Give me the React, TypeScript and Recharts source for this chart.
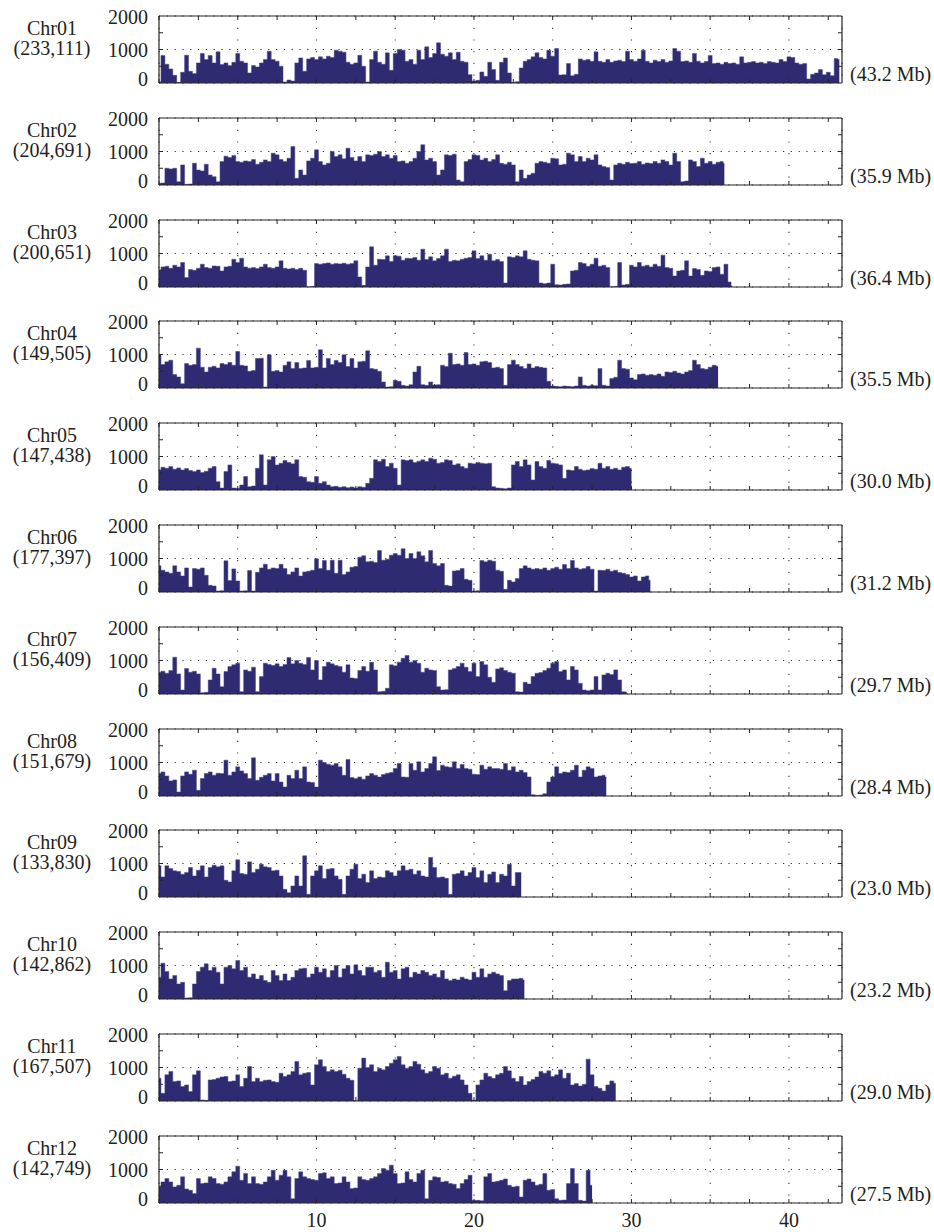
import { AreaChart, Area, XAxis, YAxis, CartesianGrid } from 'recharts';

const chrNames = ['Chr01', 'Chr02', 'Chr03', 'Chr04', 'Chr05', 'Chr06', 'Chr07', 'Chr08', 'Chr09', 'Chr10', 'Chr11', 'Chr12'];
const markerCounts = ['(233,111)', '(204,691)', '(200,651)', '(149,505)', '(147,438)', '(177,397)', '(156,409)', '(151,679)', '(133,830)', '(142,862)', '(167,507)', '(142,749)'];
const chrLengths = [43.2, 35.9, 36.4, 35.5, 30.0, 31.2, 29.7, 28.4, 23.0, 23.2, 29.0, 27.5];
const lengthLabels = ['(43.2 Mb)', '(35.9 Mb)', '(36.4 Mb)', '(35.5 Mb)', '(30.0 Mb)', '(31.2 Mb)', '(29.7 Mb)', '(28.4 Mb)', '(23.0 Mb)', '(23.2 Mb)', '(29.0 Mb)', '(27.5 Mb)'];
const STEP = 0.25;

const chr01 = [
  40, 820, 560, 420, 230, 20, 320, 830, 350, 280, 600, 880, 700, 820, 600, 930,
  550, 600, 520, 620, 880, 650, 600, 300, 520, 480, 600, 700, 950, 700, 650, 500,
  30, 90, 60, 600, 750, 350, 720, 760, 700, 780, 720, 800, 760, 980, 950, 920,
  620, 560, 600, 830, 500, 30, 700, 950, 620, 560, 900, 380, 880, 1000, 980, 650,
  700, 560, 980, 700, 1080, 760, 880, 1200, 860, 800, 900, 700, 920, 650, 620, 250,
  60, 80, 330, 200, 620, 400, 80, 620, 750, 300, 20, 40, 450, 650, 700, 780,
  900, 760, 720, 980, 800, 1030, 240, 250, 580, 220, 260, 720, 680, 700, 650, 930,
  650, 620, 700, 620, 660, 680, 640, 950, 700, 650, 720, 980, 650, 600, 680, 640,
  700, 620, 660, 1030, 950, 640, 660, 620, 880, 650, 600, 640, 820, 580, 600, 560,
  620, 580, 600, 560, 780, 600, 620, 640, 600, 620, 580, 640, 620, 600, 700, 640,
  780, 760, 600, 560, 580, 120, 260, 300, 400, 250, 320, 220, 730, 700,
];
const chr02 = [
  50, 60, 500, 480, 500, 100, 600, 20, 30, 650, 450, 420, 620, 300, 250, 100,
  700, 860, 820, 880, 700, 680, 720, 700, 760, 620, 680, 750, 700, 950, 900, 760,
  700, 800, 1150, 200, 450, 300, 720, 800, 1050, 700, 600, 650, 1000, 850, 900, 780,
  1100, 820, 720, 850, 700, 900, 880, 920, 1000, 850, 900, 800, 880, 700, 720, 650,
  700, 800, 1000, 1200, 750, 800, 700, 300, 450, 900, 880, 920, 150, 100, 700, 760,
  900, 880, 750, 800, 700, 760, 900, 650, 620, 680, 600, 100, 450, 200, 300, 350,
  650, 700, 680, 650, 800, 780, 600, 620, 950, 900, 700, 850, 700, 800, 750, 900,
  600, 550, 520, 150, 600, 650, 620, 680, 640, 650, 700, 620, 660, 640, 700, 650,
  750, 700, 600, 950, 700, 100, 120, 750, 700, 550, 800, 650, 700, 620, 680, 700,
  650,
];
const chr03 = [
  500, 600, 620, 560, 650, 600, 730, 280, 520, 500, 560, 680, 580, 560, 630, 620,
  480, 600, 620, 830, 730, 860, 600, 560, 580, 550, 600, 680, 580, 560, 600, 780,
  560, 540, 560, 520, 560, 500, 0, 20, 700, 680, 700, 720, 680, 700, 690, 710,
  680, 700, 780, 300, 50, 600, 1200, 650, 830, 820, 930, 760, 930, 920, 800, 860,
  850, 880, 800, 1130, 820, 900, 780, 850, 930, 1130, 760, 800, 780, 830, 860, 880,
  1080, 850, 930, 800, 980, 780, 820, 760, 120, 900, 880, 930, 900, 1080, 830, 800,
  780, 120, 100, 120, 680, 70, 60, 80, 90, 480, 500, 730, 700, 620, 680, 860,
  620, 650, 580, 0, 20, 730, 60, 80, 650, 600, 730, 620, 650, 600, 680, 620,
  950, 580, 560, 330, 480, 500, 780, 330, 550, 520, 350, 480, 460, 580, 600, 380,
  680, 150, 30,
];
const chr04 = [
  1000, 700, 780, 830, 400, 330, 130, 730, 680, 700, 1190, 620, 480, 620, 650, 600,
  730, 700, 760, 680, 1090, 680, 660, 500, 520, 880, 890, 30, 990, 500, 520, 480,
  680, 780, 580, 760, 580, 600, 820, 600, 620, 1140, 600, 880, 700, 820, 760, 990,
  640, 880, 600, 780, 800, 1110, 580, 560, 500, 180, 30, 40, 230, 200, 80, 60,
  100, 480, 650, 100, 80, 180, 90, 100, 680, 640, 1040, 700, 720, 680, 1060, 700,
  720, 680, 780, 800, 760, 600, 620, 580, 80, 700, 830, 700, 640, 580, 720, 600,
  640, 620, 600, 200, 60, 50, 40, 60, 50, 40, 60, 330, 80, 60, 80, 70,
  580, 80, 60, 280, 320, 830, 580, 560, 300, 250, 400, 420, 380, 400, 380, 420,
  350, 480, 460, 500, 450, 420, 480, 520, 830, 700, 580, 560, 620, 680, 650,
];
const chr05 = [
  600, 680, 650, 700, 620, 660, 600, 640, 580, 550, 600, 520, 560, 650, 700, 250,
  60, 550, 750, 60, 50, 150, 400, 100, 120, 650, 1050, 150, 900, 1000, 750, 800,
  880, 820, 780, 900, 400, 380, 250, 230, 400, 200, 250, 150, 100, 110, 80, 100,
  70, 90, 60, 100, 80, 200, 350, 900, 850, 920, 700, 800, 650, 150, 900, 880,
  900, 820, 860, 900, 850, 950, 920, 800, 820, 900, 880, 750, 780, 700, 650, 800,
  780, 820, 800, 780, 800, 100, 60, 50, 40, 60, 750, 850, 700, 900, 750, 300,
  850, 700, 650, 880, 800, 780, 750, 350, 600, 580, 700, 620, 580, 600, 640, 620,
  800, 650, 700, 620, 650, 600, 680, 700, 650,
];
const chr06 = [
  780, 650, 600, 560, 780, 600, 480, 720, 150, 700, 680, 720, 500, 200, 180, 30,
  40, 930, 340, 690, 330, 30, 40, 640, 30, 590, 720, 830, 680, 720, 700, 830,
  700, 520, 600, 720, 480, 600, 620, 650, 990, 700, 940, 650, 950, 560, 950, 520,
  600, 740, 760, 1040, 1080, 900, 920, 880, 1240, 950, 980, 1100, 1150, 1100, 1290, 1000,
  1150, 1000, 1200, 1080, 900, 1240, 850, 780, 850, 200, 180, 630, 640, 700, 380, 350,
  30, 40, 940, 900, 950, 920, 650, 620, 80, 350, 300, 400, 700, 780, 720, 680,
  700, 680, 720, 650, 700, 740, 680, 820, 700, 940, 720, 680, 700, 760, 680, 30,
  650, 640, 680, 620, 650, 580, 560, 520, 450, 480, 330, 450, 480, 350,
];
const chr07 = [
  650, 680, 620, 700, 1100, 600, 120, 760, 650, 680, 600, 40, 50, 420, 770, 600,
  220, 670, 820, 870, 920, 70, 720, 680, 800, 70, 520, 920, 880, 850, 900, 820,
  880, 1090, 900, 1000, 920, 880, 1090, 720, 1000, 420, 820, 950, 900, 850, 820, 650,
  870, 480, 460, 700, 820, 680, 950, 720, 70, 80, 170, 870, 840, 950, 1070, 1150,
  950, 1000, 920, 650, 770, 720, 700, 220, 120, 130, 720, 760, 820, 920, 800, 670,
  920, 520, 970, 870, 500, 350, 750, 780, 700, 650, 620, 70, 60, 350, 300, 520,
  620, 640, 700, 770, 920, 970, 670, 720, 420, 820, 720, 320, 120, 100, 120, 520,
  120, 570, 620, 580, 720, 420, 70, 60,
];
const chr08 = [
  670, 720, 600, 450, 480, 120, 600, 720, 650, 770, 170, 520, 670, 720, 620, 680,
  670, 1070, 620, 720, 870, 750, 670, 520, 1140, 470, 560, 620, 670, 450, 670, 420,
  270, 620, 520, 770, 520, 870, 420, 400, 270, 1070, 1000, 950, 920, 970, 870, 620,
  1090, 550, 520, 570, 500, 600, 670, 620, 570, 640, 680, 700, 820, 970, 570, 560,
  970, 770, 1020, 720, 820, 970, 1170, 760, 920, 870, 860, 1020, 820, 940, 820, 800,
  650, 640, 920, 800, 870, 820, 820, 800, 970, 770, 870, 720, 770, 700, 570, 40,
  20, 30, 70, 420, 570, 870, 670, 720, 700, 770, 920, 570, 770, 870, 820, 570,
  600, 620, 570,
];
const chr09 = [
  930, 600, 930, 850, 780, 760, 680, 730, 880, 630, 800, 930, 600, 880, 950, 900,
  930, 500, 450, 780, 1110, 700, 680, 1050, 730, 830, 980, 900, 880, 780, 800, 630,
  230, 130, 330, 630, 330, 1230, 80, 630, 780, 930, 550, 830, 850, 630, 530, 80,
  630, 830, 980, 550, 680, 430, 780, 550, 600, 580, 780, 730, 630, 780, 930, 800,
  830, 680, 780, 630, 600, 1180, 880, 580, 600, 560, 80, 680, 700, 780, 630, 730,
  880, 580, 780, 430, 680, 750, 430, 680, 630, 980, 330, 730, 730,
];
const chr10 = [
  650, 1070, 820, 600, 700, 450, 500, 30, 40, 450, 820, 950, 1050, 850, 950, 800,
  450, 950, 1000, 900, 1150, 850, 950, 650, 750, 600, 700, 550, 500, 850, 700, 550,
  750, 550, 650, 850, 900, 920, 650, 750, 950, 800, 900, 650, 850, 1000, 650, 900,
  1000, 750, 1020, 850, 700, 950, 950, 800, 850, 650, 1100, 800, 850, 600, 900, 950,
  650, 800, 750, 850, 800, 700, 750, 650, 850, 600, 550, 600, 570, 650, 600, 570,
  800, 650, 900, 650, 750, 800, 750, 700, 250, 550, 600, 600, 620, 570,
];
const chr11 = [
  680, 230, 780, 880, 580, 600, 430, 480, 280, 780, 900, 30, 20, 630, 640, 680,
  720, 730, 580, 600, 780, 430, 680, 1030, 580, 680, 580, 620, 630, 580, 560, 830,
  730, 780, 880, 1180, 780, 830, 850, 480, 1080, 1230, 1030, 880, 930, 880, 920, 800,
  680, 620, 10, 980, 1280, 1000, 1080, 880, 980, 930, 1030, 1130, 1230, 1330, 1080, 980,
  1030, 1180, 1100, 930, 830, 880, 1030, 980, 780, 830, 680, 740, 780, 630, 480, 230,
  30, 480, 630, 830, 730, 680, 780, 830, 1030, 900, 680, 580, 730, 480, 580, 640,
  720, 880, 830, 900, 730, 780, 930, 680, 830, 480, 520, 450, 500, 1250, 780, 430,
  380, 300, 480, 600, 530,
];
const chr12 = [
  480, 630, 730, 630, 480, 530, 780, 420, 380, 280, 730, 580, 600, 780, 730, 580,
  560, 630, 780, 930, 1100, 680, 880, 580, 780, 580, 560, 630, 780, 980, 680, 830,
  980, 780, 130, 730, 930, 780, 730, 700, 680, 880, 900, 730, 780, 580, 600, 780,
  630, 430, 450, 780, 700, 680, 730, 780, 880, 1030, 980, 1130, 880, 580, 600, 930,
  700, 630, 880, 980, 130, 680, 780, 760, 630, 650, 580, 560, 430, 580, 700, 830,
  80, 80, 70, 780, 880, 630, 650, 680, 720, 530, 480, 500, 180, 680, 720, 630,
  530, 560, 880, 380, 400, 130, 80, 90, 580, 1030, 580, 80, 60, 980, 530,
];
const density = [chr01, chr02, chr03, chr04, chr05, chr06, chr07, chr08, chr09, chr10, chr11, chr12];

const mbTicks = [0, 5, 10, 15, 20, 25, 30, 35, 40];
const minorTicks = [0, 2.5, 5, 7.5, 10, 12.5, 15, 17.5, 20, 22.5, 25, 27.5, 30, 32.5, 35, 37.5, 40, 42.5];
const yTicks = [0, 1000, 2000];
const yMinorTicks = [500, 1000, 1500];

const X_MAX = 43.37;
const FIRST_TOP = 16;
const PITCH = 101.8;
const PLOT_H = 67;
const MARGIN_TOP = 12;
const LABEL_AXIS_H = 32;
const CHART_H = MARGIN_TOP + PLOT_H + LABEL_AXIS_H;
const FONT = "'Liberation Serif', 'DejaVu Serif', serif";
const FONT_SIZE = 20;
const INK = '#231f20';
const FILL = '#2e2b72';
const BOX = '#262626';

const NoTick = () => <g />;

const YTick = (props: any) => {
  const { x, y, payload } = props;
  const v = payload.value;
  const dy = v === 2000 ? 8 : v === 0 ? 3 : 7;
  return (
    <text x={x - 11} y={y + dy} textAnchor="end" fontSize={FONT_SIZE} fontFamily={FONT} fill={INK}>
      {v}
    </text>
  );
};

const XTick = (props: any) => {
  const { x, y, payload } = props;
  const v = payload.value;
  if (v === 0 || v % 10 !== 0) return <g />;
  return (
    <text x={x} y={y + 24} textAnchor="middle" fontSize={FONT_SIZE} fontFamily={FONT} fill={INK}>
      {v}
    </text>
  );
};

const Panel = ({ idx }: { idx: number }) => {
  const len = chrLengths[idx];
  const rows = density[idx].map((y, i) => ({ x: Math.min(i * STEP, len), y }));
  const isLast = idx === chrNames.length - 1;
  const top = FIRST_TOP + idx * PITCH;

  return (
    <div style={{ position: 'absolute', left: 0, top: top - MARGIN_TOP }}>
      <AreaChart
        width={934}
        height={CHART_H}
        data={rows}
        margin={{ top: MARGIN_TOP, right: 92, bottom: 0, left: 109 }}
      >
        <CartesianGrid vertical={false} stroke="#333" strokeWidth={1.1} strokeDasharray="1.2 6.6" />
        <CartesianGrid horizontal={false} stroke="#333" strokeWidth={1.1} strokeDasharray="1.2 10.5" />
        <XAxis
          dataKey="x"
          type="number"
          domain={[0, X_MAX]}
          allowDataOverflow
          ticks={mbTicks}
          interval={0}
          height={LABEL_AXIS_H}
          axisLine={false}
          tickLine={false}
          tickSize={0}
          tickMargin={0}
          tick={isLast ? XTick : NoTick}
        />
        <XAxis
          xAxisId="bottomTicks"
          dataKey="x"
          type="number"
          domain={[0, X_MAX]}
          allowDataOverflow
          ticks={minorTicks}
          interval={0}
          mirror
          tick={NoTick}
          tickSize={4}
          tickLine={{ stroke: BOX }}
          axisLine={{ stroke: BOX, strokeWidth: 1.2 }}
        />
        <XAxis
          xAxisId="topTicks"
          orientation="top"
          dataKey="x"
          type="number"
          domain={[0, X_MAX]}
          allowDataOverflow
          ticks={minorTicks}
          interval={0}
          mirror
          tick={NoTick}
          tickSize={4}
          tickLine={{ stroke: BOX }}
          axisLine={{ stroke: BOX, strokeWidth: 1.2 }}
        />
        <YAxis
          type="number"
          domain={[0, 2000]}
          allowDataOverflow
          ticks={yTicks}
          interval={0}
          width={50}
          axisLine={false}
          tickLine={false}
          tickSize={0}
          tickMargin={0}
          tick={YTick}
        />
        <YAxis
          yAxisId="leftTicks"
          type="number"
          domain={[0, 2000]}
          allowDataOverflow
          ticks={yMinorTicks}
          interval={0}
          mirror
          tick={NoTick}
          tickSize={4}
          tickLine={{ stroke: BOX }}
          axisLine={{ stroke: BOX, strokeWidth: 1.2 }}
        />
        <YAxis
          yAxisId="rightTicks"
          orientation="right"
          type="number"
          domain={[0, 2000]}
          allowDataOverflow
          ticks={yMinorTicks}
          interval={0}
          mirror
          tick={NoTick}
          tickSize={4}
          tickLine={{ stroke: BOX }}
          axisLine={{ stroke: BOX, strokeWidth: 1.2 }}
        />
        <Area
          type="step"
          dataKey="y"
          stroke="#4a478a"
          strokeWidth={0.5}
          fill={FILL}
          fillOpacity={1}
          dot={false}
          activeDot={false}
          isAnimationActive={false}
        />
      </AreaChart>
    </div>
  );
};

export default function App() {
  return (
    <div style={{ position: 'absolute', left: 0, top: 0, width: 934, height: 1232, background: '#fff' }}>
      {chrNames.map((_, i) => (
        <Panel key={i} idx={i} />
      ))}
      <svg
        width={934}
        height={1232}
        style={{ position: 'absolute', left: 0, top: 0, pointerEvents: 'none' }}
      >
        {chrNames.map((name, i) => {
          const top = FIRST_TOP + i * PITCH;
          return (
            <g key={name} fontFamily={FONT} fontSize={FONT_SIZE} fill={INK}>
              <text x={52} y={top + 19} textAnchor="middle">{name}</text>
              <text x={52} y={top + 39} textAnchor="middle">{markerCounts[i]}</text>
              <text x={850} y={top + 65}>{lengthLabels[i]}</text>
            </g>
          );
        })}
      </svg>
    </div>
  );
}
